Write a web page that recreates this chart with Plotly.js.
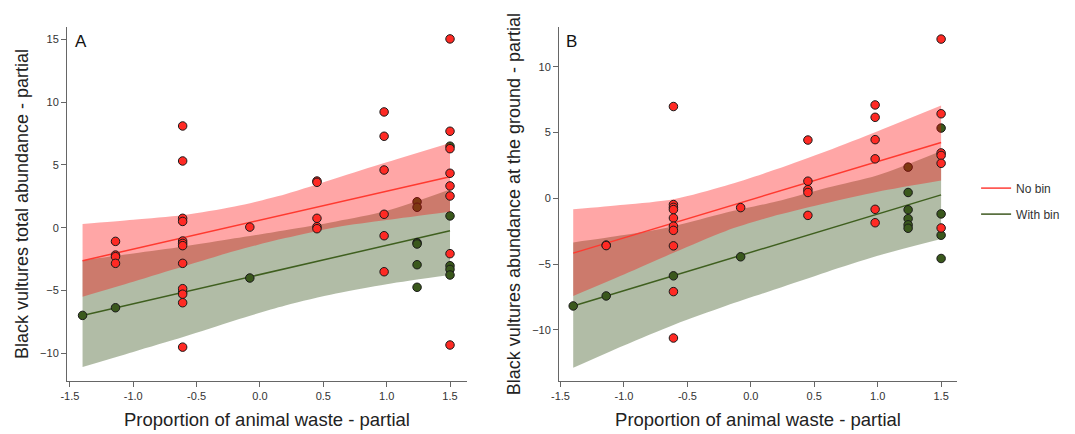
<!DOCTYPE html>
<html>
<head>
<meta charset="utf-8">
<script src="https://cdn.plot.ly/plotly-3.0.1.min.js"></script>
<style>html,body{margin:0;padding:0;background:#fff;}#chart{width:1075px;height:434px;}</style>
</head>
<body>
<div id="chart"></div>
<script>
// ---------- Panel A: total abundance ----------
const bandX = [-1.4, -1.0, -0.6, -0.2, 0.2, 0.6, 1.0, 1.5];
const lineX = [-1.4, 1.5];

const aNoBinLine = [-2.63, 4.07];
const aWithBinLine = [-6.99, -0.24];
const aNoBinUpper = [0.30, 0.64, 1.02, 1.69, 2.67, 3.94, 5.21, 6.75];
const aNoBinLower = [-5.5, -4.31, -3.08, -1.86, -0.83, 0.04, 0.61, 1.27];
const aWithBinUpper = [-2.6, -2.05, -1.5, -0.85, -0.2, 0.5, 1.35, 3.05];
const aWithBinLower = [-11.1, -9.9, -8.7, -7.4, -6.2, -5.25, -4.5, -3.77];

const aNoBinX = [-1.14, -1.14, -1.14, -1.14,
  -0.61, -0.61, -0.61, -0.61, -0.61, -0.61, -0.61, -0.61, -0.61, -0.61, -0.61, -0.61,
  -0.08,
  0.45, 0.45, 0.45, 0.45, 0.45,
  0.98, 0.98, 0.98, 0.98, 0.98, 0.98,
  1.5, 1.5, 1.5, 1.5, 1.5, 1.5, 1.5, 1.5];
const aNoBinY = [-1.09, -2.18, -2.31, -2.84,
  8.11, 5.32, 0.75, 0.5, -1.06, -1.25, -1.43, -2.84, -4.86, -5.3, -5.98, -9.52,
  0.05,
  3.72, 3.62, 0.75, 0.08, -0.08,
  9.23, 7.29, 4.6, 1.07, -0.64, -3.51,
  15.05, 7.69, 6.3, 4.34, 3.33, 2.53, -2.07, -9.35];

const aWithBinX = [-1.4, -1.14, -0.61, -0.08,
  1.24, 1.24, 1.24, 1.24, 1.24, 1.24,
  1.5, 1.5, 1.5, 1.5, 1.5];
const aWithBinY = [-6.99, -6.38, -5.15, -4.01,
  2.07, 1.63, -1.19, -1.3, -2.95, -4.75,
  6.5, 0.94, -3.03, -3.32, -3.77];

// ---------- Panel B: abundance at the ground ----------
const bNoBinLine = [-4.17, 4.25];
const bWithBinLine = [-8.19, 0.26];
const bNoBinUpper = [-0.84, -0.5, -0.05, 0.95, 2.2, 3.6, 5.1, 7.05];
const bNoBinLower = [-7.43, -5.8, -4.1, -2.5, -1.3, -0.35, 0.5, 1.35];
const bWithBinUpper = [-3.36, -2.8, -2.1, -1.1, -0.25, 0.8, 1.75, 3.6];
const bWithBinLower = [-12.9, -11.2, -9.6, -8.2, -6.9, -5.6, -4.37, -3.1];

const bNoBinX = [-1.14, -1.14,
  -0.61, -0.61, -0.61, -0.61, -0.61, -0.61, -0.61, -0.61, -0.61, -0.61,
  -0.08,
  0.45, 0.45, 0.45, 0.45, 0.45,
  0.98, 0.98, 0.98, 0.98, 0.98, 0.98,
  1.5, 1.5, 1.5, 1.5, 1.5, 1.5];
const bNoBinY = [-3.56, -3.6,
  6.98, -0.48, -0.69, -0.86, -1.5, -2.12, -2.44, -3.62, -7.1, -10.63,
  -0.71,
  4.43, 1.3, 0.66, 0.44, -1.3,
  7.1, 6.16, 4.46, 3.0, -0.84, -1.86,
  12.11, 6.43, 3.45, 3.26, 2.66, -2.26];

const bWithBinX = [-1.4, -1.14, -0.61, -0.08,
  1.24, 1.24, 1.24, 1.24, 1.24, 1.24,
  1.5, 1.5, 1.5, 1.5];
const bWithBinY = [-8.19, -7.43, -5.9, -4.45,
  2.37, 0.44, -0.87, -1.55, -2.02, -2.28,
  5.34, -1.19, -2.81, -4.58];

const legendNames = ["No bin", "With bin"];

// ---------- styles ----------
const RED_PT = "#ff2a24";
const GREEN_PT = "#3a581c";
const RED_LINE = "#ff3a30";
const GREEN_LINE = "#3f5f1f";
const RED_BAND = "rgba(255,0,0,0.35)";
const GREEN_BAND = "rgba(50,80,20,0.38)";

// band = lower edge (no fill) followed by upper edge filled to it
function band(x, up, lo, color, xa, ya) {
  return [
    {x: x, y: lo, mode: "lines", line: {width: 0, shape: "spline", smoothing: 0.8},
      hoverinfo: "skip", showlegend: false, xaxis: xa, yaxis: ya},
    {x: x, y: up, mode: "lines", fill: "tonexty", fillcolor: color,
      line: {width: 0, shape: "spline", smoothing: 0.8},
      hoverinfo: "skip", showlegend: false, xaxis: xa, yaxis: ya}
  ];
}
function line(x, y, color, xa, ya) {
  return {x: x, y: y, mode: "lines", line: {color: color, width: 1.5},
    showlegend: false, xaxis: xa, yaxis: ya};
}
function pts(x, y, color, xa, ya) {
  return {x: x, y: y, mode: "markers",
    marker: {size: 8.5, color: color, line: {color: "#1a1a1a", width: 1}},
    showlegend: false, xaxis: xa, yaxis: ya};
}

const traces = [].concat(
  band(bandX, aWithBinUpper, aWithBinLower, GREEN_BAND, "x", "y"),
  [line(lineX, aWithBinLine, GREEN_LINE, "x", "y"),
   pts(aWithBinX, aWithBinY, GREEN_PT, "x", "y")],
  band(bandX, aNoBinUpper, aNoBinLower, RED_BAND, "x", "y"),
  [line(lineX, aNoBinLine, RED_LINE, "x", "y"),
   pts(aNoBinX, aNoBinY, RED_PT, "x", "y")],

  band(bandX, bWithBinUpper, bWithBinLower, GREEN_BAND, "x2", "y2"),
  [line(lineX, bWithBinLine, GREEN_LINE, "x2", "y2"),
   pts(bWithBinX, bWithBinY, GREEN_PT, "x2", "y2")],
  band(bandX, bNoBinUpper, bNoBinLower, RED_BAND, "x2", "y2"),
  [line(lineX, bNoBinLine, RED_LINE, "x2", "y2"),
   pts(bNoBinX, bNoBinY, RED_PT, "x2", "y2")],

  // legend entries
  [{x: [null], y: [null], mode: "lines", line: {color: "#ff5a55", width: 1.6}, name: legendNames[0], legendgroup: "g1", xaxis: "x", yaxis: "y"},
   {x: [null], y: [null], mode: "lines", line: {color: "#5a7040", width: 1.6}, name: legendNames[1], legendgroup: "g2", xaxis: "x", yaxis: "y"}]
);

const FONT = "Liberation Sans, Arial, sans-serif";
const xTicks = [-1.5, -1.0, -0.5, 0.0, 0.5, 1.0, 1.5];
const xTickText = ["-1.5", "-1.0", "-0.5", "0.0", "0.5", "1.0", "1.5"];

function xax(domain, range) {
  return {domain: domain, range: range, showgrid: false, zeroline: false,
    showline: true, linecolor: "#666", linewidth: 1,
    ticks: "outside", ticklen: 5, tickcolor: "#666",
    tickvals: xTicks, ticktext: xTickText,
    tickfont: {family: FONT, size: 11, color: "#333"},
    title: {text: "Proportion of animal waste - partial", font: {family: FONT, size: 18.5, color: "#222"}, standoff: 11}};
}
function yax(range, ticks, title, anchor) {
  return {domain: [0.1221, 0.9378], range: range, showgrid: false, zeroline: false,
    showline: true, linecolor: "#666", linewidth: 1,
    ticks: "outside", ticklen: 5, tickcolor: "#666",
    tickvals: ticks, anchor: anchor,
    tickfont: {family: FONT, size: 11, color: "#333"},
    title: {text: title, font: {family: FONT, size: 18, color: "#222"}, standoff: 6}};
}

const layout = {
  width: 1075, height: 434,
  margin: {l: 0, r: 0, t: 0, b: 0},
  paper_bgcolor: "#fff", plot_bgcolor: "#fff",
  font: {family: FONT},
  xaxis: Object.assign(xax([0.0623, 0.4344], [-1.523, 1.634]), {anchor: "y"}),
  yaxis: yax([-12.22, 16.0], [-10, -5, 0, 5, 10, 15], "Black vultures total abundance - partial", "x"),
  xaxis2: Object.assign(xax([0.52, 0.8902], [-1.512, 1.625]), {anchor: "y2"}),
  yaxis2: yax([-13.9, 13.03], [-10, -5, 0, 5, 10], "Black vultures abundance at the ground - partial", "x2"),
  showlegend: true,
  legend: {x: 0.908, y: 0.6, xanchor: "left", yanchor: "top",
    font: {family: FONT, size: 12, color: "#333"}, bgcolor: "rgba(0,0,0,0)", tracegroupgap: 7},
  annotations: [
    {text: "A", xref: "paper", yref: "paper", x: 0.0675, y: 0.93, xanchor: "left", yanchor: "top", showarrow: false, font: {family: FONT, size: 17, color: "#111"}},
    {text: "B", xref: "paper", yref: "paper", x: 0.5245, y: 0.93, xanchor: "left", yanchor: "top", showarrow: false, font: {family: FONT, size: 17, color: "#111"}}
  ]
};

Plotly.newPlot("chart", traces, layout, {displayModeBar: false, staticPlot: true});
</script>
</body>
</html>
